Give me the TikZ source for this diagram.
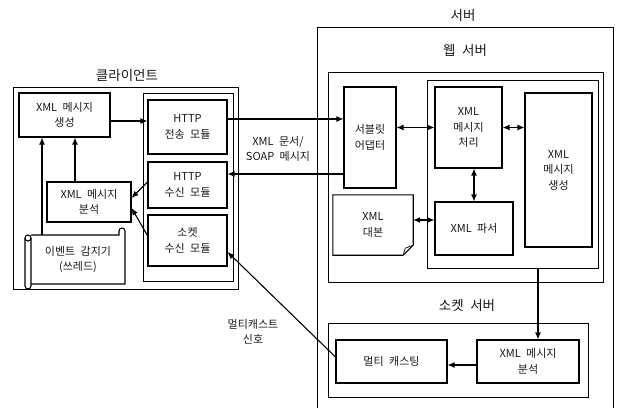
\documentclass[tikz,border=0pt]{standalone}
\usepackage{fontspec}
\setmainfont{Noto Sans CJK KR}
\newfontfamily\krfont[WordSpace=2.2]{Noto Sans CJK KR}
\usetikzlibrary{arrows.meta}

\begin{document}
\begin{tikzpicture}[x=1pt,y=1pt,
    box/.style={draw, line width=1.1pt, align=center, inner sep=1pt, font=\krfont\fontsize{11}{15.5}\selectfont, text=black!90},
    frame/.style={draw, line width=1pt},
    title/.style={font=\krfont\fontsize{13.5}{15}\selectfont, text=black!90},
    lbl/.style={align=center, font=\krfont\fontsize{11}{15.5}\selectfont, text=black!90},
    arr/.style={line width=1.1pt, -{Latex[length=7pt,width=6pt]}},
    darr/.style={line width=1.1pt, {Latex[length=7pt,width=6pt]}-{Latex[length=7pt,width=6pt]}}]
    \useasboundingbox (0,0) rectangle (620,-408);
    % client side
    \node[title] (ctitle) at (127,-75) {클라이언트};
    \node[frame, minimum width=225pt, minimum height=202pt] (client) at (125.5,-188) {};
    \node[box, minimum width=91pt, minimum height=44pt] (cgen) at (64.5,-115) {XML 메시지\\생성};
    \node[frame, minimum width=90pt, minimum height=188pt] (cmod) at (188,-187) {};
    \node[box, minimum width=79pt, minimum height=54pt] (send) at (187.5,-127) {HTTP\\전송 모듈};
    \node[box, minimum width=79pt, minimum height=46pt] (recv) at (187.5,-185) {HTTP\\수신 모듈};
    \node[box, minimum width=79pt, minimum height=51pt] (sock) at (187.5,-240.5) {소켓\\수신 모듈};
    \node[box, minimum width=84pt, minimum height=40pt] (canal) at (89,-202) {XML 메시지\\분석};
    \node[lbl, minimum width=94pt, minimum height=49pt] (evt) at (78,-259.5) {이벤트 감지기\\(쓰레드)};
    % scroll
    \draw[line width=1.1pt] (31,-235) -- (119,-235) -- (119,-231) arc (180:0:3) -- (125,-284) -- (31,-284);
    \draw[line width=1.1pt] (25,-238) -- (25,-286) arc (180:360:3) -- (31,-238);
    \draw[line width=1.1pt] (28,-238) circle (3);
    \draw[arr] ([xshift=-36pt]evt.north) -- ([xshift=-36pt]evt.north |- cgen.south);
    \draw[arr] ([xshift=-14pt]canal.north) -- ([xshift=-14pt]canal.north |- cgen.south);
    \draw[arr] ([yshift=-6pt]cgen.east) -- ([yshift=-6pt]cgen.east -| send.west);
    \draw[arr] ([yshift=3pt]recv.west) -- ([yshift=4pt]canal.east);
    \draw[arr] ([yshift=5pt]sock.west) -- ([yshift=-6pt]canal.east);
    % server side
    \node[title] (stitle) at (463,-15) {서버};
    \draw[frame] (317,-408) -- (317,-27) -- (613,-27) -- (613,-408);
    \node[title] (wtitle) at (465,-50) {웹 서버};
    \node[frame, minimum width=275pt, minimum height=210pt] (web) at (465.5,-177) {};
    \node[frame, minimum width=171pt, minimum height=188pt] (wmod) at (512.5,-174) {};
    \node[box, minimum width=52pt, minimum height=101pt] (adapt) at (370,-137.5) {서블릿\\어댑터};
    \node[box, minimum width=67pt, minimum height=81pt] (proc) at (468.5,-127.5) {XML\\메시지\\처리};
    \node[box, minimum width=67pt, minimum height=154pt] (sgen) at (558.5,-170) {XML\\메시지\\생성};
    \node[box, minimum width=78pt, minimum height=53pt] (parser) at (474,-228.5) {XML 파서};
    \node[lbl, minimum width=80pt, minimum height=60pt] (script) at (373,-225) {XML\\대본};
    \draw[line width=1.1pt] (script.north west) -- (script.north east) -- ([yshift=10pt]script.south east)
        -- ([xshift=-10pt]script.south east) -- (script.south west) -- cycle;
    \draw[line width=0.7pt] ([yshift=10pt]script.south east) -- ([xshift=-8pt,yshift=7pt]script.south east)
        -- ([xshift=-10pt]script.south east);
    \draw[darr] (proc.west -| adapt.east) -- (proc.west);
    \draw[darr] (proc.east) -- (proc.east -| sgen.west);
    \draw[darr] (parser.north |- proc.south) -- (parser.north);
    \draw[darr] ([yshift=5pt]script.east) -- ([yshift=5pt]script.east -| parser.west);
    % socket server
    \node[title] (ktitle) at (467,-305) {소켓 서버};
    \node[frame, minimum width=260pt, minimum height=74pt] (ksrv) at (458,-360) {};
    \node[box, minimum width=111pt, minimum height=43pt] (mcast) at (391.5,-361.5) {멀티 캐스팅};
    \node[box, minimum width=102pt, minimum height=43pt] (sanal) at (528,-361.5) {XML 메시지\\분석};
    \draw[arr] ([yshift=-3.5pt]sanal.west) -- ([yshift=-3.5pt]sanal.west -| mcast.east);
    \draw[arr] ([xshift=10pt]sanal.north |- wmod.south) -- ([xshift=10pt]sanal.north);
    % between client and server
    \draw[arr] ([yshift=8pt]send.east) -- ([yshift=8pt]send.east -| adapt.west);
    \draw[arr] ([yshift=11pt]recv.east -| adapt.west) -- ([yshift=11pt]recv.east);
    \node[lbl] (msg) at (278,-149) {XML 문서/\\SOAP 메시지};
    \draw[arr] ([yshift=4.5pt]mcast.west) -- ([yshift=-11.5pt]sock.east);
    \node[lbl] (sig) at (253,-332) {멀티캐스트\\신호};
\end{tikzpicture}
\end{document}
